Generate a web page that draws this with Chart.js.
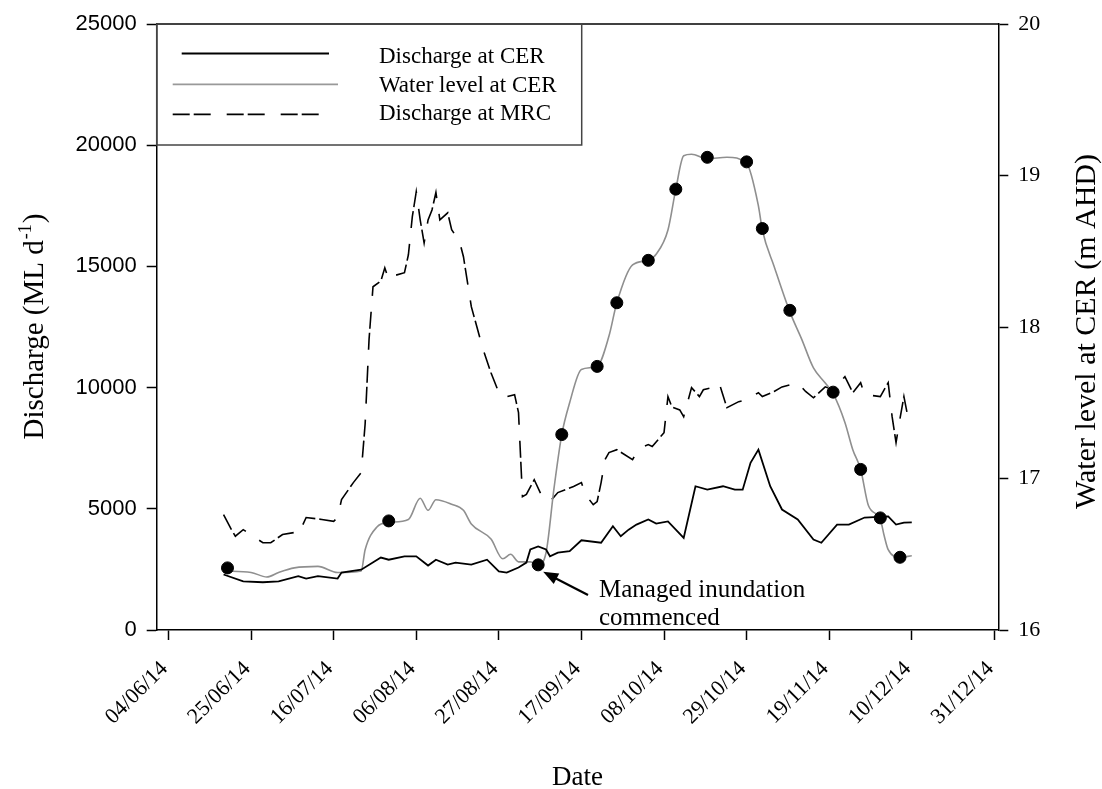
<!DOCTYPE html>
<html>
<head>
<meta charset="utf-8">
<script src="https://cdn.jsdelivr.net/npm/chart.js@4.4.1/dist/chart.umd.min.js"></script>
<style>
  body { margin: 0; background: #fff; }
</style>
</head>
<body>
<canvas id="flowChart" width="1102" height="789"></canvas>
<script>
// x values are days since 1 June 2014
var tickDays = [3, 24, 45, 66, 87, 108, 129, 150, 171, 192, 213];
var tickLabels = ['04/06/14', '25/06/14', '16/07/14', '06/08/14', '27/08/14', '17/09/14',
                  '08/10/14', '29/10/14', '19/11/14', '10/12/14', '31/12/14'];

// Discharge at CER (ML/d)
var cerDays = [17,22,27,31,36,38,41,46,47,52,57,59,63,66,69,71,74,76,80,84,87,89,92,94,95,97,99,100,102,105,
               108,113,116,118,120,122,125,127,130,134,137,140,144,147,149,151,153,156,159,163,167,169,173,176,180,186,188,190,192];
var cerQ = [2290,2010,1970,2010,2220,2120,2220,2120,2370,2490,2990,2900,3040,3040,2660,2900,2700,2780,2700,2900,
            2420,2370,2580,2780,3320,3450,3320,3040,3190,3250,3700,3600,4280,3870,4140,4350,4560,4390,4480,3800,
            5930,5790,5930,5790,5790,6900,7440,5930,4970,4560,3730,3600,4350,4350,4640,4690,4350,4430,4440];

// Water level at CER (m AHD)
var levelDays = [17,24,28,31,35,41,46,52,53,56,59,64,67,69,71,75,78,80,85,88,90,92,95,97,99,101,103,105,108,112,
                 115,117,121,125,127,130,132,134,136,140,145,150,153,154,157,161,164,167,170,172,175,177,179,181,184,185,186,189,192];
var levelM = [16.39,16.38,16.35,16.38,16.41,16.42,16.38,16.39,16.53,16.68,16.71,16.73,16.87,16.79,16.86,16.83,16.79,16.70,
              16.60,16.47,16.50,16.45,16.45,16.43,16.51,16.93,17.29,17.50,17.72,17.74,17.94,18.16,18.41,18.44,18.48,18.64,
              18.91,19.13,19.14,19.11,19.12,19.08,18.80,18.64,18.40,18.10,17.92,17.73,17.63,17.56,17.37,17.19,17.06,16.82,
              16.73,16.62,16.53,16.48,16.49];

// surveyed water level points
var dotDays = [18,59,97,103,112,117,125,132,140,150,154,161,172,179,184,189];
var dotM = [16.41,16.72,16.43,17.29,17.74,18.16,18.44,18.91,19.12,19.09,18.65,18.11,17.57,17.06,16.74,16.48];

// Discharge at MRC (ML/d)
var mrcDays = [17,19,20,22,27,29,32,35,36,38,42,45,46,47,50,52,53,54,55,57,58,59,60,63,64,65,66,67,68,69,70,71,72,74,75,
               77,78,80,83,85,87,88,91,92,93,94,96,98,100,102,106,108,109,111,112,113,114,115,117,121,122,123,125,126,129,
               130,131,133,134,136,138,139,142,143,145,148,150,153,154,157,159,163,165,167,170,172,175,177,179,180,184,186,
               187,188,189,190,191];
var mrcQ = [4760,4140,3870,4140,3600,3600,3940,4020,3940,4640,4560,4480,4640,5380,6080,6490,8500,12000,14160,14400,
            14940,14450,14600,14740,15480,17050,18080,16920,15970,16920,17330,18050,16920,17210,16510,16030,15400,13340,
            11570,10610,9790,9580,9710,8970,5500,5590,6200,5500,5300,5670,5920,6080,5590,5170,5300,6080,7030,7320,7440,
            7030,7320,7520,7650,7570,8140,9630,9200,9080,8800,10000,9630,9910,10030,10200,9170,9420,9500,9790,9630,9840,
            10030,10200,9840,9580,10030,9910,10450,9790,10200,9710,9630,10200,8800,7730,8720,9630,8800];

var serif = '"Liberation Serif", "Times New Roman", serif';
var sans = '"Liberation Sans", Arial, sans-serif';
var mrcDash = [17, 4, 17, 16];

function pts(xs, ys) {
    return xs.map(function(d, i) { return {x: d, y: ys[i]}; });
}

var decor = {
    id: 'decor',
    afterDraw: function(chart) {
        var ctx = chart.ctx;
        var a = chart.chartArea;
        ctx.save();

        // top frame line
        ctx.strokeStyle = '#000';
        ctx.lineWidth = 1.5;
        ctx.beginPath();
        ctx.moveTo(a.left, a.top);
        ctx.lineTo(a.right, a.top);
        ctx.stroke();

        // legend
        ctx.strokeStyle = '#444';
        ctx.lineWidth = 1.5;
        ctx.strokeRect(a.left, a.top, 581.7 - a.left, 145 - a.top);
        ctx.lineWidth = 1.8;
        ctx.strokeStyle = '#000';
        ctx.beginPath(); ctx.moveTo(181.7, 53.5); ctx.lineTo(329, 53.5); ctx.stroke();
        ctx.strokeStyle = '#999';
        ctx.beginPath(); ctx.moveTo(172.7, 84.3); ctx.lineTo(338, 84.3); ctx.stroke();
        ctx.strokeStyle = '#000';
        ctx.setLineDash(mrcDash);
        ctx.beginPath(); ctx.moveTo(172.7, 114.3); ctx.lineTo(322, 114.3); ctx.stroke();
        ctx.setLineDash([]);
        ctx.fillStyle = '#000';
        ctx.font = '23px ' + serif;
        ctx.textBaseline = 'alphabetic';
        ctx.textAlign = 'left';
        ctx.fillText('Discharge at CER', 379, 63.3);
        ctx.fillText('Water level at CER', 379, 91.7);
        ctx.fillText('Discharge at MRC', 379, 120);

        // annotation arrow pointing at the day-97 survey point
        var px = chart.scales.x.getPixelForValue(dotDays[2]);
        var py = chart.scales.y1.getPixelForValue(dotM[2]);
        var tipX = px + 5, tipY = py + 7;
        var tailX = 588, tailY = 595;
        var ang = Math.atan2(tipY - tailY, tipX - tailX);
        ctx.strokeStyle = '#000';
        ctx.lineWidth = 2.2;
        ctx.beginPath();
        ctx.moveTo(tailX, tailY);
        ctx.lineTo(tipX - 10 * Math.cos(ang), tipY - 10 * Math.sin(ang));
        ctx.stroke();
        ctx.beginPath();
        ctx.moveTo(tipX, tipY);
        ctx.lineTo(tipX - 15 * Math.cos(ang) + 6 * Math.sin(ang), tipY - 15 * Math.sin(ang) - 6 * Math.cos(ang));
        ctx.lineTo(tipX - 15 * Math.cos(ang) - 6 * Math.sin(ang), tipY - 15 * Math.sin(ang) + 6 * Math.cos(ang));
        ctx.closePath();
        ctx.fill();
        ctx.font = '25px ' + serif;
        ctx.fillText('Managed inundation', 599, 597);
        ctx.fillText('commenced', 599, 625);

        // axis titles
        ctx.save();
        ctx.translate(43, 326.5);
        ctx.rotate(-Math.PI / 2);
        ctx.font = '29px ' + serif;
        var t1 = 'Discharge (ML d', t3 = ')';
        var w1 = ctx.measureText(t1).width, w3 = ctx.measureText(t3).width;
        ctx.font = '18px ' + serif;
        var w2 = ctx.measureText('-1').width + 2;
        var x0 = -(w1 + w2 + w3) / 2;
        ctx.font = '29px ' + serif;
        ctx.fillText(t1, x0, 0);
        ctx.fillText(t3, x0 + w1 + w2, 0);
        ctx.font = '18px ' + serif;
        ctx.fillText('-1', x0 + w1 + 1, -12);
        ctx.restore();

        ctx.save();
        ctx.translate(1095, 331.5);
        ctx.rotate(-Math.PI / 2);
        ctx.font = '30px ' + serif;
        ctx.textAlign = 'center';
        ctx.fillText('Water level at CER (m AHD)', 0, 0);
        ctx.restore();

        ctx.font = '27px ' + serif;
        ctx.textAlign = 'center';
        ctx.fillText('Date', 577.4, 785);

        ctx.restore();
    }
};

var ctx = document.getElementById('flowChart').getContext('2d');
var flowChart = new Chart(ctx, {
    type: 'line',
    data: {
        datasets: [{
            label: 'Water level survey',
            data: pts(dotDays, dotM),
            yAxisID: 'y1',
            showLine: false,
            pointRadius: 6,
            pointBackgroundColor: '#000',
            pointBorderColor: '#000',
            order: 0
        }, {
            label: 'Discharge at CER',
            data: pts(cerDays, cerQ),
            yAxisID: 'y',
            borderColor: '#000',
            borderWidth: 1.8,
            pointRadius: 0,
            order: 1
        }, {
            label: 'Water level at CER',
            data: pts(levelDays, levelM),
            yAxisID: 'y1',
            borderColor: '#8f8f8f',
            borderWidth: 1.6,
            pointRadius: 0,
            cubicInterpolationMode: 'monotone',
            order: 2
        }, {
            label: 'Discharge at MRC',
            data: pts(mrcDays, mrcQ),
            yAxisID: 'y',
            borderColor: '#000',
            borderWidth: 1.6,
            borderDash: mrcDash,
            pointRadius: 0,
            order: 3
        }]
    },
    options: {
        responsive: false,
        animation: false,
        devicePixelRatio: 1,
        layout: { padding: { top: 24, left: 0, right: 0, bottom: 0 } },
        plugins: {
            legend: { display: false },
            tooltip: { enabled: false }
        },
        scales: {
            x: {
                type: 'linear',
                position: 'bottom',
                min: 0,
                max: 214,
                afterBuildTicks: function(s) {
                    s.ticks = tickDays.map(function(v) { return {value: v}; });
                },
                afterFit: function(s) { s.height = 789 - 630; },
                ticks: {
                    autoSkip: false,
                    minRotation: 45,
                    maxRotation: 45,
                    padding: 16,
                    labelOffset: -4,
                    color: '#000',
                    font: { family: serif, size: 22 },
                    callback: function(v) {
                        var i = tickDays.indexOf(v);
                        return i >= 0 ? tickLabels[i] : '';
                    }
                },
                grid: { drawOnChartArea: false, tickLength: 10, tickColor: '#000', tickWidth: 1.5 },
                border: { display: true, color: '#000', width: 1.5 }
            },
            y: {
                position: 'left',
                min: 0,
                max: 25000,
                afterFit: function(s) { s.width = 156.7; },
                ticks: {
                    stepSize: 5000,
                    padding: 10,
                    color: '#000',
                    font: { family: sans, size: 22 },
                    callback: function(v) { return String(v); }
                },
                grid: { drawOnChartArea: false, tickLength: 10, tickColor: '#000', tickWidth: 1.5 },
                border: { display: true, color: '#000', width: 1.5 }
            },
            y1: {
                position: 'right',
                min: 16,
                max: 20,
                afterFit: function(s) { s.width = 1102 - 998.3; },
                ticks: {
                    stepSize: 1,
                    padding: 10,
                    color: '#000',
                    font: { family: serif, size: 22 }
                },
                grid: { drawOnChartArea: false, tickLength: 10, tickColor: '#000', tickWidth: 1.5 },
                border: { display: true, color: '#000', width: 1.5 }
            }
        }
    },
    plugins: [decor]
});
</script>
</body>
</html>
